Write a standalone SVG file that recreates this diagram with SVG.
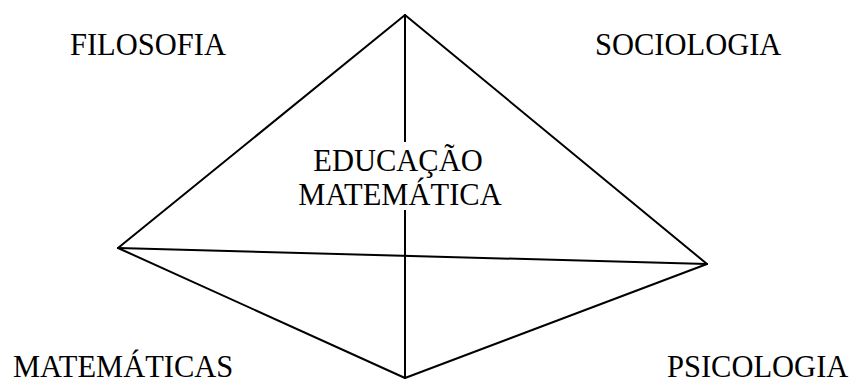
<svg xmlns="http://www.w3.org/2000/svg" width="853" height="383" viewBox="0 0 853 383">
<style>
.e{stroke:#000;stroke-width:2;fill:none;stroke-linecap:round}
.t{font-family:"Liberation Serif","Times New Roman",serif;font-size:30.5px;fill:#000}
.c{text-anchor:middle}
</style>
<rect width="853" height="383" fill="#fff"/>
<g id="connectors">
<line class="e" x1="405" y1="15" x2="118" y2="248"/>
<line class="e" x1="405" y1="15" x2="707" y2="264"/>
<line class="e" x1="405" y1="15" x2="405" y2="378"/>
<line class="e" x1="118" y1="248" x2="707" y2="264"/>
<line class="e" x1="118" y1="248" x2="405" y2="378"/>
<line class="e" x1="707" y1="264" x2="405" y2="378"/>
</g>
<g id="filosofia"><text class="t" x="70" y="55">FILOSOFIA</text></g>
<g id="sociologia"><text class="t" x="595" y="55">SOCIOLOGIA</text></g>
<g id="matematicas"><text class="t" x="13" y="377">MATEMÁTICAS</text></g>
<g id="psicologia"><text class="t" x="667" y="377">PSICOLOGIA</text></g>
<g id="educacao"><rect x="300" y="142" width="202" height="68" fill="#fff"/><text class="t c" x="398" y="171">EDUCAÇÃO</text><text class="t c" x="400" y="205">MATEMÁTICA</text></g>
</svg>
